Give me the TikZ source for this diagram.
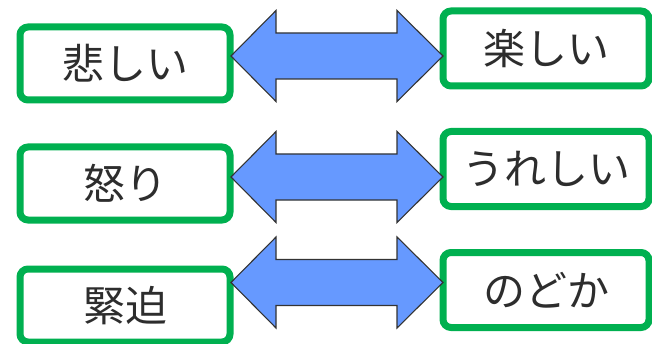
\documentclass[tikz,border=0pt]{standalone}
\usepackage{fontspec}
\newfontfamily\jpfont{Noto Sans CJK JP}
\definecolor{boxgreen}{RGB}{0,176,80}
\definecolor{arrowblue}{RGB}{102,153,255}
\definecolor{txtgray}{RGB}{45,45,45}
\tikzset{
  emobox/.style={draw=boxgreen, line width=7pt, rounded corners=8pt, fill=white,
    inner sep=0pt, font=\jpfont\fontsize{42}{46}\selectfont, text=txtgray},
  leftbox/.style={emobox, minimum width=210pt, minimum height=73pt},
  rightbox/.style={emobox, minimum width=206pt, minimum height=75pt},
  dblarrowstyle/.style={draw=black!80, line width=1.1pt, fill=arrowblue, line join=miter}
}
\newcommand{\mydblarrow}[1]{%
  \draw[dblarrowstyle] (#1) ++(-106,0) -- ++(45,-45.5) -- ++(0,22.5) -- ++(121,0)
    -- ++(0,-22.5) -- ++(46,45.5) -- ++(-46,45.5) -- ++(0,-22.5) -- ++(-121,0)
    -- ++(0,22.5) -- cycle;}
\begin{document}
\begin{tikzpicture}[x=1pt,y=1pt]
\useasboundingbox (0,0) rectangle (652,343);
\node[leftbox] (l1) at (125,279.5) {悲しい};
\node[leftbox] (l2) at (125,159.5) {怒り};
\node[leftbox] (l3) at (125,37.5) {緊迫};
\node[rightbox] (r1) at (546,294.5) {楽しい};
\node[rightbox] (r2) at (546,174) {うれしい};
\node[rightbox] (r3) at (546,53) {のどか};
\coordinate (a1) at (337,287);
\coordinate (a2) at (337,166);
\coordinate (a3) at (337,60.5);
\mydblarrow{a1}
\mydblarrow{a2}
\mydblarrow{a3}
\end{tikzpicture}
\end{document}
